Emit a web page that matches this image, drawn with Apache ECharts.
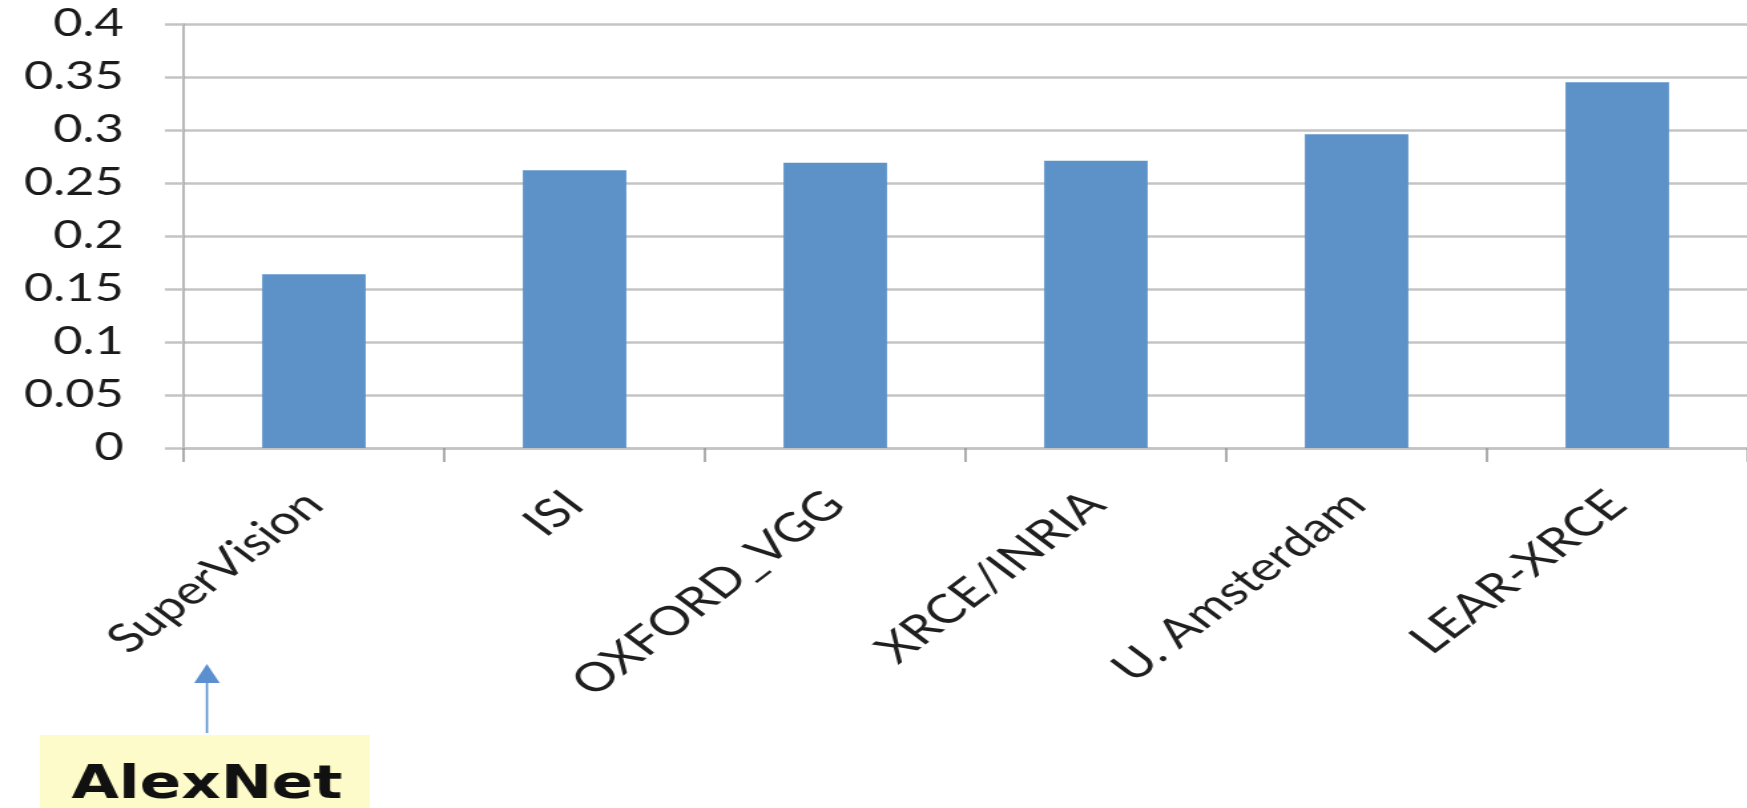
<!DOCTYPE html>
<html>
<head>
<meta charset="utf-8">
<script src="https://cdn.jsdelivr.net/npm/echarts@6/dist/echarts.min.js"></script>
<style>
  html, body { margin: 0; padding: 0; background: #ffffff; overflow: hidden; }
  #wrap { width: 1747px; height: 808px; overflow: hidden; position: relative; }
  #chart { width: 1314px; height: 808px; transform: scaleX(1.33); transform-origin: 0 0; }
</style>
</head>
<body>
<div id="wrap"><div id="chart"></div></div>
<script>
const categories = ['SuperVision', 'ISI', 'OXFORD_VGG', 'XRCE/INRIA', 'U. Amsterdam', 'LEAR-XRCE'];
const errorRates = [0.164, 0.262, 0.269, 0.271, 0.296, 0.345];
const yMin = 0;
const yMax = 0.4;
const yStep = 0.05;
const calloutText = 'AlexNet';

const chart = echarts.init(document.getElementById('chart'), null, { renderer: 'canvas' });

const option = {
  animation: false,
  backgroundColor: '#ffffff',
  grid: { left: 138, top: 24, width: 1182, height: 424, containLabel: false },
  xAxis: {
    type: 'category',
    data: categories,
    boundaryGap: true,
    axisLine: { show: true, lineStyle: { color: '#c4c4c4', width: 2.5 } },
    axisTick: { show: true, alignWithLabel: false, length: 14, lineStyle: { color: '#9a9a9a', width: 1.6 } },
    axisLabel: {
      interval: 0,
      rotate: 45,
      margin: 50,
      color: '#1f1f1f',
      fontFamily: 'Lato',
      fontSize: 40
    },
    splitLine: { show: false }
  },
  yAxis: {
    type: 'value',
    min: yMin,
    max: yMax,
    interval: yStep,
    axisLine: { show: true, lineStyle: { color: '#a8a8a8', width: 1.6 } },
    axisTick: { show: true, inside: false, length: 14, lineStyle: { color: '#c4c4c4', width: 2.5 } },
    axisLabel: {
      margin: 45,
      color: '#1a1a1a',
      fontFamily: 'Lato',
      fontSize: 38
    },
    splitLine: { show: true, lineStyle: { color: '#c4c4c4', width: 2.5 } }
  },
  series: [{
    type: 'bar',
    data: errorRates,
    barWidth: '39.7%',
    itemStyle: { color: '#5d92c9' }
  }],
  graphic: [
    {
      type: 'rect',
      shape: { x: 30, y: 735, width: 248, height: 90 },
      style: { fill: '#fdfbc9' },
      silent: true
    },
    {
      type: 'text',
      x: 155.6,
      y: 786,
      style: {
        text: calloutText,
        fill: '#111111',
        font: 'bold 46px "DejaVu Sans"',
        align: 'center',
        verticalAlign: 'middle'
      },
      silent: true
    },
    {
      type: 'line',
      shape: { x1: 155.6, y1: 733, x2: 155.6, y2: 678 },
      style: { stroke: '#5b8fcf', lineWidth: 1.6 },
      silent: true
    },
    {
      type: 'polygon',
      shape: { points: [[155.6, 664], [146, 683], [165.2, 683]] },
      style: { fill: '#5b8fcf' },
      silent: true
    }
  ]
};

chart.setOption(option);
</script>
</body>
</html>
